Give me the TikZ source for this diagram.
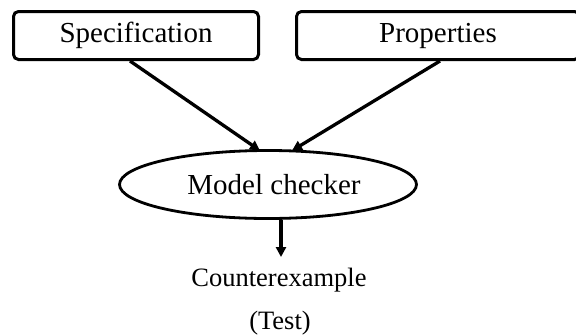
\documentclass[tikz,border=0pt]{standalone}
\usepackage{fontspec}
\setmainfont{Liberation Serif}
\usetikzlibrary{arrows.meta,shapes.geometric,calc}

\tikzset{
  inbox/.style={draw, line width=3pt, rounded corners=5pt, minimum height=48pt,
    inner sep=0pt, font=\fontsize{29}{29}\selectfont},
  checker/.style={draw, ellipse, line width=2.8pt, minimum width=297pt,
    minimum height=68pt, inner sep=0pt},
  flow/.style={line width=3.3pt, -{Triangle[length=10pt,width=10pt]}},
  result/.style={inner sep=0pt, font=\fontsize{26.5}{26.5}\selectfont}
}

\begin{document}
\begin{tikzpicture}[x=1pt, y=-1pt]
  \useasboundingbox (0,0) rectangle (576,335);

  % inputs
  \node[inbox, minimum width=245pt] (spec) at (136,35.5) {Specification};
  \node[inbox, minimum width=283pt] (props) at (438,35.5) {Properties};

  % checker
  \node[checker, label={[xshift=6pt, font=\fontsize{29}{29}\selectfont]center:Model checker}]
    (mc) at (268,184.5) {};

  % output
  \node[result] (cex) at (279,280) {Counterexample};
  \node[result] (test) at (280,323) {(Test)};
  \coordinate (out) at (281,257);

  % connectors
  \draw[flow] ($(spec.south)+(-6,0)$) -- ($(mc.north)+(-8,1.5)$);
  \draw[flow] ($(props.south)+(2,0)$) -- ($(mc.north)+(24,1.5)$);
  \draw[flow] ($(mc.south)+(13,0)$) -- (out);
\end{tikzpicture}
\end{document}
